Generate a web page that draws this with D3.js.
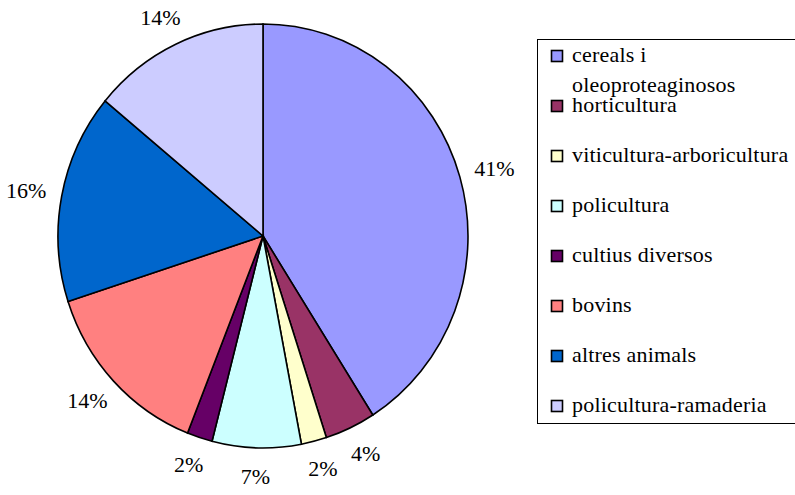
<!DOCTYPE html>
<html>
<head>
<meta charset="utf-8">
<script src="https://cdn.jsdelivr.net/npm/d3@7"></script>
<style>
  body { margin: 0; background: #fff; }
  .preload { position: absolute; left: 0; top: 0; visibility: hidden; font-family: 'Liberation Serif'; font-size: 22px; }
</style>
</head>
<body>
<span class="preload" aria-hidden="true">%</span>
<svg id="chart" width="795" height="495"></svg>
<script>
// Share of farms by orientation (%)
const categories = [
  'cereals i oleoproteaginosos',
  'horticultura',
  'viticultura-arboricultura',
  'policultura',
  'cultius diversos',
  'bovins',
  'altres animals',
  'policultura-ramaderia'
];
const values = [41, 4, 2, 7, 2, 14, 16, 14];
const colors = ['#9999FF', '#993366', '#FFFFCC', '#CCFFFF', '#660066', '#FF8080', '#0066CC', '#CCCCFF'];
// legend wraps the first entry on two lines
const legendLines = [
  ['cereals i', 'oleoproteaginosos'],
  ['horticultura'],
  ['viticultura-arboricultura'],
  ['policultura'],
  ['cultius diversos'],
  ['bovins'],
  ['altres animals'],
  ['policultura-ramaderia']
];

const FONT = 'Liberation Serif';

const svg = d3.select('#chart');

const cx = 263, cy = 236;
const radius = 205;
const labelRadius = 241;

const data = categories.map((name, i) => ({ name, value: values[i], color: colors[i] }));

const pie = d3.pie()
  .sort(null)
  .value(d => d.value);

const arcs = pie(data);

const arc = d3.arc()
  .innerRadius(0)
  .outerRadius(radius);

const labelArc = d3.arc()
  .innerRadius(labelRadius)
  .outerRadius(labelRadius);

// pie is a bit taller than wide in the original
const pieG = svg.append('g')
  .attr('transform', `translate(${cx},${cy}) scale(1,1.034)`);

pieG.selectAll('path')
  .data(arcs)
  .enter()
  .append('path')
  .attr('d', arc)
  .attr('fill', d => d.data.color)
  .attr('stroke', '#000')
  .attr('stroke-width', 1.6)
  .attr('vector-effect', 'non-scaling-stroke');

// percentage labels outside the slices
svg.append('g')
  .attr('transform', `translate(${cx},${cy})`)
  .selectAll('text')
  .data(arcs)
  .enter()
  .append('text')
  .attr('x', d => labelArc.centroid(d)[0])
  .attr('y', d => labelArc.centroid(d)[1] + 7)
  .attr('text-anchor', 'middle')
  .attr('font-family', FONT)
  .attr('font-size', 22)
  .attr('fill', '#000')
  .text(d => `${d.data.value}%`);

// legend
const legendX = 537, legendY = 39;
const legendW = 270, legendH = 384;
const rowStep = 50;

const legend = svg.append('g');

legend.append('rect')
  .attr('x', legendX + 0.5)
  .attr('y', legendY + 0.5)
  .attr('width', legendW)
  .attr('height', legendH)
  .attr('fill', '#fff')
  .attr('stroke', '#000')
  .attr('stroke-width', 1);

const rows = legend.selectAll('g.row')
  .data(data)
  .enter()
  .append('g')
  .attr('class', 'row')
  .attr('transform', (d, i) => `translate(${legendX}, ${legendY + 23 + i * rowStep})`);

rows.append('rect')
  .attr('x', 14.5)
  .attr('y', -11.5)
  .attr('width', 11)
  .attr('height', 11)
  .attr('fill', d => d.color)
  .attr('stroke', '#000')
  .attr('stroke-width', 1.6);

rows.append('text')
  .attr('x', 35)
  .attr('y', 0)
  .attr('font-family', FONT)
  .attr('font-size', 22)
  .attr('letter-spacing', 0.2)
  .attr('fill', '#000')
  .selectAll('tspan')
  .data((d, i) => legendLines[i])
  .enter()
  .append('tspan')
  .attr('x', 35)
  .attr('dy', (d, j) => j === 0 ? 0 : 30)
  .text(d => d);
</script>
</body>
</html>
